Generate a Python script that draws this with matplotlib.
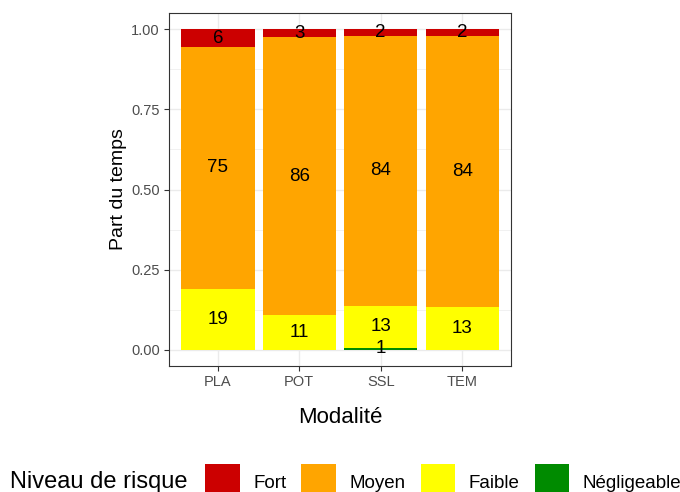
import numpy as np
import matplotlib
matplotlib.use("Agg")
import matplotlib.pyplot as plt
from matplotlib.patches import Patch

plt.rcParams["font.family"] = ["Liberation Sans", "DejaVu Sans"]

# ---------- data (share of time per risk level) ----------
modalites = ["PLA", "POT", "SSL", "TEM"]
niveaux = ["Négligeable", "Faible", "Moyen", "Fort"]   # stacking order, bottom -> top
negligeable = [0.000, 0.000, 0.006, 0.000]
faible = [0.191, 0.110, 0.132, 0.134]
moyen = [0.753, 0.864, 0.840, 0.844]
fort = [0.056, 0.026, 0.022, 0.022]
couleurs = {"Fort": "#CC0000", "Moyen": "#FFA500", "Faible": "#FFFF00", "Négligeable": "#008B00"}
legend_order = ["Fort", "Moyen", "Faible", "Négligeable"]

series = dict(zip(niveaux, [negligeable, faible, moyen, fort]))

fig = plt.figure(figsize=(6.8, 4.92), dpi=100)
ax = fig.add_axes([169 / 680, 1 - 366 / 492, 342 / 680, 353 / 492])

x = np.arange(len(modalites)) + 1
bottom = np.zeros(len(modalites))
for niv in niveaux:
    vals = np.array(series[niv])
    ax.bar(x, vals, 0.9, bottom=bottom, color=couleurs[niv], linewidth=0, zorder=2)
    for xi, b, v in zip(x, bottom, vals):
        if v > 0:
            ax.text(xi, b + v / 2, f"{round(v * 100)}", ha="center", va="center",
                    fontsize=13.5, color="black", zorder=3)
    bottom += vals

# ---------- theme_bw look ----------
ax.set_xlim(0.4, 4.6)
ax.set_ylim(-0.05, 1.05)
ax.set_xticks(x)
ax.set_xticklabels(modalites)
ax.set_yticks([0, 0.25, 0.5, 0.75, 1.0])
ax.set_yticklabels(["0.00", "0.25", "0.50", "0.75", "1.00"])
ax.set_yticks([0.125, 0.375, 0.625, 0.875], minor=True)
ax.grid(True, which="major", color="#EBEBEB", lw=1.0, zorder=0)
ax.grid(True, which="minor", axis="y", color="#EBEBEB", lw=0.5, zorder=0)
ax.set_axisbelow(True)
ax.tick_params(axis="both", which="major", length=3.5, width=0.8, color="#333333",
               labelcolor="#4D4D4D", labelsize=10.5, pad=3)
ax.tick_params(axis="y", which="minor", length=0)
for s in ax.spines.values():
    s.set_color("#333333")
    s.set_linewidth(0.8)

ax.set_xlabel("Modalité", fontsize=16, labelpad=13)
ax.set_ylabel("Part du temps", fontsize=14, labelpad=3)

# ---------- legend (title on the left, as in ggplot bottom legend) ----------
fig.text(10 / 680, 1 - 482 / 492, "Niveau de risque", fontsize=17, ha="left", va="center")
handles = [Patch(facecolor=couleurs[n], edgecolor="none", label=n) for n in legend_order]
fig.legend(handles=handles, loc="center left", bbox_to_anchor=(205 / 680, 1 - 482 / 492),
           ncol=4, frameon=False, fontsize=13.5, handlelength=1.85, handleheight=2.5,
           handletextpad=0.72, columnspacing=0.8, borderpad=0, borderaxespad=0)

fig.savefig("out.png", dpi=100)
